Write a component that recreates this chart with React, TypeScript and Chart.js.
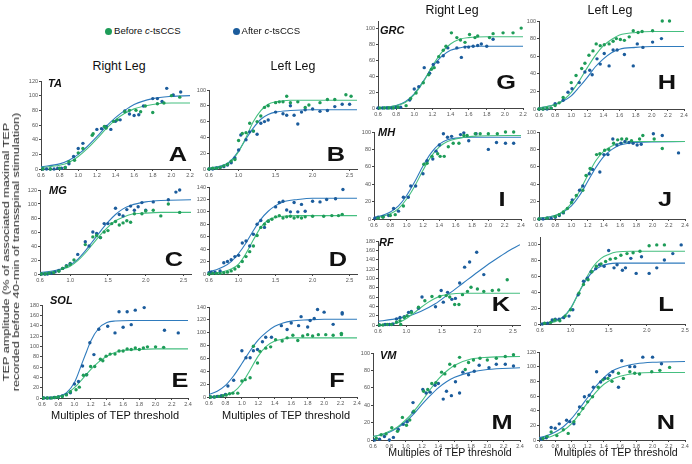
import React, { useEffect, useRef } from "react";
import { Chart, registerables } from "chart.js";

Chart.register(...registerables);

const FONT = '"Liberation Sans", Arial, Helvetica, sans-serif';
const GREEN_PT = "#1e9c58";
const GREEN_LN = "#45bf80";
const BLUE_PT = "#1b5c9c";
const BLUE_LN = "#2f7bbd";

type Pts = [number, number][];

// ---------- tick labels ----------
const X_TICKS_22 = [0.6, 0.8, 1.0, 1.2, 1.4, 1.6, 1.8, 2.0, 2.2];
const X_TICKS_24 = [0.6, 0.8, 1.0, 1.2, 1.4, 1.6, 1.8, 2.0, 2.2, 2.4];
const X_TICKS_HALF = [0.6, 1.0, 1.5, 2.0, 2.5];
const Y_TICKS_100 = [0, 20, 40, 60, 80, 100];
const Y_TICKS_120 = [0, 20, 40, 60, 80, 100, 120];
const Y_TICKS_140 = [0, 20, 40, 60, 80, 100, 120, 140];
const Y_TICKS_180 = [0, 20, 40, 60, 80, 100, 120, 140, 160, 180];

// ---------- A: TA right ----------
const A_BEFORE: Pts = [[0.62,0],[0.7,0],[0.8,1],[0.86,2],[0.9,10],[0.96,12],[1.0,22],[1.05,28],[1.15,46],[1.16,48],[1.28,58],[1.3,56],[1.38,65],[1.42,67],[1.5,78],[1.55,80],[1.62,80],[1.67,78],[1.72,86],[1.8,77],[1.85,89],[1.92,90],[2.0,100],[2.09,98]];
const A_AFTER: Pts = [[0.62,0],[0.66,0],[0.7,0],[0.74,0],[0.78,1],[0.82,1],[0.86,2],[0.9,7],[0.95,17],[1.0,28],[1.05,35],[1.2,54],[1.25,55],[1.3,58],[1.35,54],[1.4,65],[1.45,67],[1.5,79],[1.55,75],[1.6,73],[1.65,74],[1.7,86],[1.8,96],[1.85,96],[1.9,92],[1.95,110],[2.02,101],[2.1,105]];
const A_FIT_BEFORE: Pts = [[0.6,2],[0.8,5],[0.9,9],[1.0,17],[1.1,28],[1.2,41],[1.3,55],[1.4,67],[1.5,76],[1.6,82],[1.8,88],[2.0,90],[2.2,90]];
const A_FIT_AFTER: Pts = [[0.6,3],[0.8,7],[0.9,12],[1.0,20],[1.1,31],[1.2,44],[1.3,58],[1.4,70],[1.5,80],[1.6,88],[1.8,96],[2.0,99],[2.2,100]];

// ---------- B: TA left ----------
const B_BEFORE: Pts = [[0.6,0],[0.65,1],[0.7,1],[0.75,2],[0.8,4],[0.85,6],[0.9,10],[0.95,12],[1.0,36],[1.05,45],[1.1,46],[1.15,58],[1.2,48],[1.25,60],[1.3,67],[1.35,78],[1.4,80],[1.5,84],[1.55,85],[1.6,85],[1.65,92],[1.7,84],[1.8,85],[1.9,78],[1.95,81],[2.1,84],[2.2,88],[2.3,88],[2.45,94],[2.52,92]];
const B_AFTER: Pts = [[0.6,0],[0.65,0],[0.7,1],[0.75,2],[0.8,3],[0.85,5],[0.9,8],[0.95,14],[1.0,24],[1.03,43],[1.1,37],[1.15,47],[1.2,48],[1.25,44],[1.3,58],[1.35,60],[1.4,62],[1.5,72],[1.6,70],[1.65,68],[1.7,80],[1.75,68],[1.8,57],[1.85,72],[1.9,75],[2.0,76],[2.1,73],[2.2,74],[2.3,79],[2.4,82],[2.5,82]];
const B_FIT_BEFORE: Pts = [[0.6,1],[0.8,4],[0.9,10],[1.0,22],[1.1,40],[1.2,60],[1.3,74],[1.4,82],[1.5,85],[1.7,87],[2.0,87],[2.6,87]];
const B_FIT_AFTER: Pts = [[0.6,1],[0.8,5],[0.9,11],[1.0,23],[1.1,38],[1.2,52],[1.3,63],[1.4,69],[1.5,72],[1.7,74],[2.0,75],[2.6,75]];

// ---------- C: MG right ----------
const C_BEFORE: Pts = [[0.62,0],[0.67,0],[0.72,1],[0.78,2],[0.85,4],[0.9,8],[0.95,11],[1.0,14],[1.05,20],[1.2,42],[1.3,53],[1.35,55],[1.4,52],[1.45,60],[1.5,62],[1.55,72],[1.6,75],[1.65,70],[1.7,73],[1.75,76],[1.8,74],[1.85,86],[1.95,86],[2.0,90],[2.1,91],[2.2,83],[2.3,100],[2.45,88]];
const C_AFTER: Pts = [[0.62,0],[0.66,0],[0.7,0],[0.75,1],[0.8,3],[0.85,5],[0.9,8],[0.95,12],[1.0,15],[1.1,28],[1.2,46],[1.25,40],[1.3,60],[1.35,58],[1.4,52],[1.45,72],[1.5,72],[1.6,94],[1.65,85],[1.7,83],[1.75,92],[1.8,97],[1.85,91],[1.9,96],[1.95,102],[2.0,91],[2.1,103],[2.3,106],[2.4,117],[2.45,120]];
const C_FIT_BEFORE: Pts = [[0.6,1],[0.8,4],[0.9,7],[1.0,11],[1.1,19],[1.2,30],[1.3,43],[1.4,56],[1.5,67],[1.6,76],[1.7,81],[1.8,85],[2.0,87],[2.2,88],[2.6,88]];
const C_FIT_AFTER: Pts = [[0.6,2],[0.8,5],[0.9,8],[1.0,13],[1.1,21],[1.2,33],[1.3,47],[1.4,61],[1.5,74],[1.6,85],[1.7,93],[1.8,98],[2.0,103],[2.2,105],[2.6,106]];

// ---------- D: MG left ----------
const D_BEFORE: Pts = [[0.6,0],[0.65,1],[0.7,1],[0.75,1],[0.8,2],[0.85,3],[0.9,5],[0.95,8],[1.0,12],[1.05,20],[1.1,28],[1.15,36],[1.2,45],[1.25,62],[1.3,75],[1.35,80],[1.4,85],[1.45,88],[1.5,92],[1.55,94],[1.6,90],[1.65,92],[1.7,93],[1.75,90],[1.8,92],[1.85,90],[1.9,92],[2.0,93],[2.15,93],[2.26,94],[2.35,94],[2.4,96]];
const D_AFTER: Pts = [[0.6,2],[0.63,3],[0.68,3],[0.75,5],[0.8,18],[0.85,20],[0.9,23],[0.95,28],[1.0,30],[1.05,50],[1.1,53],[1.15,45],[1.2,64],[1.25,80],[1.3,86],[1.35,75],[1.4,85],[1.5,108],[1.55,115],[1.6,117],[1.65,103],[1.7,100],[1.75,115],[1.8,100],[1.85,112],[1.9,101],[2.0,117],[2.1,116],[2.19,120],[2.31,121],[2.41,136]];
const D_FIT_BEFORE: Pts = [[0.6,1],[0.7,2],[0.8,4],[0.9,8],[1.0,16],[1.1,33],[1.2,55],[1.3,75],[1.4,87],[1.5,91],[1.6,93],[1.8,94],[2.6,94]];
const D_FIT_AFTER: Pts = [[0.6,4],[0.7,7],[0.8,12],[0.9,20],[1.0,33],[1.1,50],[1.2,70],[1.3,88],[1.4,101],[1.5,110],[1.6,116],[1.8,120],[2.0,122],[2.6,122]];

// ---------- E: SOL right ----------
const E_BEFORE: Pts = [[0.62,0],[0.67,0],[0.72,0],[0.76,1],[0.8,2],[0.85,3],[0.9,6],[0.95,12],[1.02,16],[1.06,21],[1.11,44],[1.15,45],[1.2,61],[1.25,61],[1.32,75],[1.35,72],[1.39,81],[1.44,85],[1.5,85],[1.55,91],[1.6,91],[1.65,95],[1.7,94],[1.75,97],[1.8,94],[1.85,97],[1.9,99],[2.0,99],[2.1,98]];
const E_AFTER: Pts = [[0.62,0],[0.66,0],[0.7,0],[0.75,1],[0.8,2],[0.85,4],[0.9,7],[0.95,10],[1.0,27],[1.05,32],[1.1,62],[1.15,45],[1.19,107],[1.24,84],[1.3,133],[1.41,139],[1.5,126],[1.55,167],[1.6,137],[1.65,167],[1.7,142],[1.75,170],[1.86,175],[2.11,131],[2.28,126]];
const E_FIT_BEFORE: Pts = [[0.6,0],[0.8,3],[0.9,8],[1.0,20],[1.1,37],[1.2,55],[1.3,70],[1.4,81],[1.5,88],[1.6,92],[1.8,94],[2.0,95],[2.4,95]];
const E_FIT_AFTER: Pts = [[0.6,0],[0.8,3],[0.9,10],[1.0,30],[1.1,70],[1.15,90],[1.2,110],[1.3,135],[1.4,146],[1.5,149],[1.7,150],[2.4,150]];

// ---------- F: SOL left ----------
const F_BEFORE: Pts = [[0.62,0],[0.67,0],[0.72,1],[0.77,2],[0.81,3],[0.85,5],[0.89,6],[0.95,6],[1.0,25],[1.04,27],[1.1,30],[1.14,79],[1.19,53],[1.22,71],[1.29,76],[1.35,78],[1.41,89],[1.49,87],[1.55,92],[1.62,96],[1.68,88],[1.74,95],[1.8,97],[1.86,95],[1.93,97],[2.02,97],[2.11,96],[2.21,99],[2.21,97]];
const F_AFTER: Pts = [[0.62,0],[0.66,0],[0.7,1],[0.75,2],[0.8,4],[0.83,17],[0.9,26],[1.0,72],[1.05,61],[1.1,61],[1.14,72],[1.19,74],[1.25,86],[1.29,93],[1.36,93],[1.48,111],[1.55,105],[1.6,115],[1.69,111],[1.72,125],[1.8,109],[1.83,119],[1.88,122],[1.92,136],[2.0,132],[2.11,113],[2.22,131],[2.22,129]];
const F_FIT_BEFORE: Pts = [[0.6,0],[0.7,1],[0.8,3],[0.9,8],[1.0,21],[1.1,42],[1.2,64],[1.3,79],[1.4,87],[1.5,90],[1.6,92],[2.4,92]];
const F_FIT_AFTER: Pts = [[0.6,4],[0.7,9],[0.8,18],[0.9,33],[1.0,52],[1.1,72],[1.2,89],[1.3,101],[1.4,110],[1.5,115],[1.6,118],[1.8,120],[2.0,121],[2.4,121]];

// ---------- G: GRC right ----------
const G_BEFORE: Pts = [[0.62,0],[0.67,0],[0.72,0],[0.77,0],[0.82,1],[0.91,3],[0.96,12],[1.02,19],[1.1,32],[1.16,42],[1.19,49],[1.22,51],[1.27,65],[1.32,73],[1.35,78],[1.41,95],[1.47,89],[1.51,86],[1.56,83],[1.61,93],[1.67,89],[1.7,91],[1.83,89],[1.87,94],[1.98,95],[2.09,95],[2.18,101]];
const G_AFTER: Pts = [[0.6,0],[0.65,0],[0.7,0],[0.75,0],[0.8,1],[0.85,1],[0.95,10],[1.0,24],[1.05,27],[1.11,51],[1.17,44],[1.21,55],[1.26,58],[1.32,66],[1.37,76],[1.47,76],[1.52,64],[1.56,77],[1.6,77],[1.65,78],[1.7,79],[1.74,81],[1.8,78],[1.87,87]];
const G_FIT_BEFORE: Pts = [[0.6,0],[0.8,3],[0.9,7],[1.0,17],[1.1,33],[1.2,53],[1.3,70],[1.4,81],[1.5,87],[1.6,89],[1.8,90],[2.2,90]];
const G_FIT_AFTER: Pts = [[0.6,0],[0.8,3],[0.9,8],[1.0,18],[1.1,34],[1.2,52],[1.3,65],[1.4,73],[1.5,76],[1.6,78],[2.2,78]];

// ---------- H: GRC left ----------
const H_BEFORE: Pts = [[0.6,0],[0.65,0],[0.7,1],[0.75,1],[0.8,4],[0.85,7],[0.9,13],[1.0,30],[1.06,38],[1.13,46],[1.17,52],[1.22,61],[1.27,66],[1.31,74],[1.36,72],[1.41,73],[1.47,74],[1.52,77],[1.56,80],[1.61,79],[1.66,78],[1.72,82],[1.77,89],[1.83,87],[1.88,88],[2.01,89],[2.13,100],[2.22,100]];
const H_AFTER: Pts = [[0.6,0],[0.65,0],[0.7,0],[0.75,1],[0.8,6],[0.9,10],[0.96,19],[1.01,23],[1.1,30],[1.17,42],[1.23,44],[1.26,39],[1.32,57],[1.36,51],[1.41,63],[1.47,49],[1.52,67],[1.57,67],[1.66,62],[1.77,49],[1.82,74],[1.89,70],[2.01,76],[2.12,80]];
const H_FIT_BEFORE: Pts = [[0.6,1],[0.8,5],[0.9,10],[1.0,19],[1.1,32],[1.2,47],[1.3,61],[1.4,72],[1.5,79],[1.6,84],[1.8,87],[2.0,88],[2.4,88]];
const H_FIT_AFTER: Pts = [[0.6,1],[0.8,5],[0.9,9],[1.0,15],[1.1,25],[1.2,36],[1.3,48],[1.4,57],[1.5,64],[1.6,68],[1.8,70],[2.0,71],[2.4,71]];

// ---------- I: MH right ----------
const I_BEFORE: Pts = [[0.65,1],[0.71,2],[0.8,4],[0.86,5],[0.96,15],[1.21,63],[1.25,64],[1.31,72],[1.38,75],[1.41,72],[1.46,72],[1.51,83],[1.57,87],[1.64,87],[1.7,96],[1.74,96],[1.84,98],[1.9,98],[2.0,98],[2.11,98],[2.21,100],[2.31,100]];
const I_AFTER: Pts = [[0.61,1],[0.65,2],[0.71,3],[0.78,4],[0.84,12],[0.9,9],[0.96,25],[1.02,25],[1.05,38],[1.11,38],[1.2,52],[1.25,67],[1.32,69],[1.36,78],[1.4,85],[1.45,98],[1.5,94],[1.55,95],[1.66,97],[1.7,99],[1.76,90],[1.85,98],[2.0,80],[2.1,88],[2.21,87],[2.31,87]];
const I_FIT_BEFORE: Pts = [[0.6,1],[0.7,3],[0.8,6],[0.9,12],[1.0,23],[1.1,38],[1.2,56],[1.3,72],[1.4,83],[1.5,89],[1.6,92],[1.8,95],[2.4,96]];
const I_FIT_AFTER: Pts = [[0.6,2],[0.7,4],[0.8,8],[0.9,15],[1.0,27],[1.1,43],[1.2,61],[1.3,76],[1.4,86],[1.5,91],[1.6,93],[1.8,94],[2.4,94]];

// ---------- J: MH left ----------
const J_BEFORE: Pts = [[0.6,0],[0.7,1],[0.8,3],[0.85,5],[0.9,8],[0.95,12],[1.0,19],[1.06,27],[1.14,33],[1.18,50],[1.23,58],[1.31,74],[1.35,75],[1.41,79],[1.46,80],[1.52,87],[1.57,91],[1.62,92],[1.68,92],[1.74,90],[1.84,92],[1.88,96],[2.02,92],[2.12,81]];
const J_AFTER: Pts = [[0.6,0],[0.65,0],[0.7,1],[0.75,1],[0.8,2],[0.85,4],[0.9,7],[1.01,22],[1.1,33],[1.14,38],[1.22,52],[1.26,57],[1.35,54],[1.4,74],[1.45,74],[1.51,92],[1.56,85],[1.61,87],[1.66,89],[1.71,88],[1.76,87],[1.81,85],[1.86,86],[2.01,98],[2.12,96],[2.32,76]];
const J_FIT_BEFORE: Pts = [[0.6,1],[0.7,2],[0.8,4],[0.9,9],[1.0,18],[1.1,32],[1.2,50],[1.3,67],[1.4,78],[1.5,84],[1.6,87],[1.8,89],[2.4,89]];
const J_FIT_AFTER: Pts = [[0.6,1],[0.7,2],[0.8,4],[0.9,8],[1.0,15],[1.1,27],[1.2,43],[1.3,59],[1.4,72],[1.5,80],[1.6,85],[1.8,88],[2.4,89]];

// ---------- K: RF right ----------
const K_BEFORE: Pts = [[0.62,0],[0.67,0],[0.73,1],[0.79,1],[0.86,6],[0.91,9],[0.92,1],[0.97,16],[1.01,20],[1.07,27],[1.17,38],[1.26,52],[1.36,61],[1.47,61],[1.56,63],[1.61,60],[1.68,44],[1.74,44],[1.79,65],[1.86,72],[1.91,81],[2.0,77],[2.09,72],[2.21,74],[2.3,75],[2.42,97]];
const K_AFTER: Pts = [[0.62,0],[0.7,1],[0.76,1],[0.81,2],[0.86,13],[0.91,16],[0.97,18],[1.03,27],[1.07,29],[1.17,36],[1.22,60],[1.41,39],[1.49,74],[1.52,49],[1.58,70],[1.64,55],[1.69,57],[1.75,90],[1.82,124],[1.89,135],[1.99,156],[2.09,108]];
const K_FIT_BEFORE: Pts = [[0.6,0],[0.8,2],[0.9,6],[1.0,14],[1.1,25],[1.2,37],[1.3,48],[1.4,57],[1.5,63],[1.6,66],[1.8,68],[2.6,68]];
const K_FIT_AFTER: Pts = [[0.6,8],[0.8,12],[1.0,18],[1.2,29],[1.4,45],[1.6,67],[1.8,90],[2.0,113],[2.2,135],[2.4,155],[2.6,172]];

// ---------- L: RF left ----------
const L_BEFORE: Pts = [[0.66,1],[0.74,2],[0.79,5],[0.86,4],[0.93,10],[1.0,18],[1.11,39],[1.17,50],[1.23,56],[1.28,66],[1.34,73],[1.4,76],[1.46,79],[1.52,82],[1.59,83],[1.66,87],[1.74,89],[1.82,90],[1.91,92],[2.03,99],[2.13,100],[2.23,100]];
const L_AFTER: Pts = [[0.63,0],[0.7,1],[0.76,5],[0.8,6],[0.85,6],[0.91,8],[0.98,10],[1.03,18],[1.1,37],[1.17,54],[1.22,58],[1.27,66],[1.33,70],[1.38,75],[1.44,73],[1.5,93],[1.57,71],[1.61,75],[1.68,68],[1.72,71],[1.79,83],[1.86,64],[1.93,85],[2.03,64],[2.13,71],[2.23,81],[2.34,89],[2.45,100]];
const L_FIT_BEFORE: Pts = [[0.6,0],[0.8,3],[0.9,8],[1.0,19],[1.1,38],[1.2,57],[1.3,73],[1.4,83],[1.5,88],[1.6,91],[1.8,92],[2.5,92]];
const L_FIT_AFTER: Pts = [[0.6,0],[0.8,4],[0.9,9],[1.0,20],[1.1,38],[1.2,55],[1.3,67],[1.4,73],[1.5,76],[1.6,77],[2.5,77]];

// ---------- M: VM right ----------
const M_BEFORE: Pts = [[0.64,2],[0.7,6],[0.76,7],[0.83,14],[0.9,10],[0.96,26],[1.01,17],[1.05,23],[1.1,33],[1.22,56],[1.27,58],[1.32,65],[1.37,66],[1.44,78],[1.48,76],[1.54,87],[1.6,85],[1.66,95],[1.73,81],[1.77,89],[1.83,92],[1.91,94],[2.0,92],[2.11,94],[2.22,96],[2.32,98]];
const M_AFTER: Pts = [[0.62,0],[0.68,1],[0.74,4],[0.8,0],[0.85,3],[0.91,12],[0.97,18],[1.02,21],[1.09,32],[1.09,43],[1.21,58],[1.25,54],[1.3,55],[1.36,63],[1.4,65],[1.46,47],[1.5,56],[1.56,51],[1.61,67],[1.66,54],[1.7,78],[1.77,75],[1.84,79],[1.9,86],[2.02,83],[2.11,87],[2.22,87],[2.32,85]];
const M_FIT_BEFORE: Pts = [[0.6,4],[0.7,6],[0.8,10],[0.9,15],[1.0,23],[1.1,33],[1.2,45],[1.3,58],[1.4,70],[1.5,79],[1.6,86],[1.8,93],[2.0,95],[2.4,96]];
const M_FIT_AFTER: Pts = [[0.6,4],[0.7,6],[0.8,9],[0.9,14],[1.0,21],[1.1,30],[1.2,41],[1.3,51],[1.4,60],[1.5,67],[1.6,72],[1.8,78],[2.0,81],[2.4,83]];

// ---------- N: VM left ----------
const N_BEFORE: Pts = [[0.65,2],[0.7,5],[0.75,11],[0.82,6],[0.9,14],[0.96,9],[1.03,25],[1.09,35],[1.14,43],[1.2,52],[1.26,59],[1.33,72],[1.39,82],[1.45,84],[1.5,80],[1.58,91],[1.64,84],[1.72,93],[1.78,91],[1.84,90],[1.99,93],[2.09,95],[2.21,99]];
const N_AFTER: Pts = [[0.63,1],[0.69,3],[0.75,17],[0.8,16],[0.85,22],[0.94,27],[0.98,25],[1.03,22],[1.1,45],[1.16,59],[1.22,61],[1.27,72],[1.31,93],[1.36,79],[1.41,84],[1.47,88],[1.51,93],[1.58,72],[1.62,108],[1.72,100],[1.78,100],[1.88,113],[2.0,113],[2.11,104]];
const N_FIT_BEFORE: Pts = [[0.6,1],[0.7,3],[0.8,7],[0.9,13],[1.0,22],[1.1,36],[1.2,51],[1.3,65],[1.4,76],[1.5,83],[1.6,87],[1.8,91],[2.0,92],[2.4,92]];
const N_FIT_AFTER: Pts = [[0.6,3],[0.7,6],[0.8,11],[0.9,18],[1.0,29],[1.1,43],[1.2,58],[1.3,73],[1.4,85],[1.5,94],[1.6,99],[1.8,104],[2.0,106],[2.4,107]];

// ---------- axis ranges ----------
const RANGE_22 = [0.6, 2.2];
const RANGE_24 = [0.6, 2.4];
const RANGE_25 = [0.6, 2.5];
const RANGE_26 = [0.6, 2.6];

interface PanelCfg {
  id: string;
  box: { l: number; r: number; t: number; b: number };
  xr: number[];
  yMax: number;
  xt: number[];
  yt: number[];
  before: Pts;
  after: Pts;
  fitBefore: Pts;
  fitAfter: Pts;
}

const PANELS: PanelCfg[] = [
  { id: "A", box: { l: 41, r: 190, t: 81, b: 169.3 }, xr: RANGE_22, yMax: 120, xt: X_TICKS_22, yt: Y_TICKS_120, before: A_BEFORE, after: A_AFTER, fitBefore: A_FIT_BEFORE, fitAfter: A_FIT_AFTER },
  { id: "B", box: { l: 208.7, r: 356.7, t: 90.3, b: 169.3 }, xr: RANGE_26, yMax: 100, xt: X_TICKS_HALF, yt: Y_TICKS_100, before: B_BEFORE, after: B_AFTER, fitBefore: B_FIT_BEFORE, fitAfter: B_FIT_AFTER },
  { id: "C", box: { l: 40, r: 190.8, t: 190, b: 274.3 }, xr: RANGE_26, yMax: 120, xt: X_TICKS_HALF, yt: Y_TICKS_120, before: C_BEFORE, after: C_AFTER, fitBefore: C_FIT_BEFORE, fitAfter: C_FIT_AFTER },
  { id: "D", box: { l: 209, r: 357, t: 187.3, b: 274.3 }, xr: RANGE_26, yMax: 140, xt: X_TICKS_HALF, yt: Y_TICKS_140, before: D_BEFORE, after: D_AFTER, fitBefore: D_FIT_BEFORE, fitAfter: D_FIT_AFTER },
  { id: "E", box: { l: 42, r: 188.3, t: 305, b: 397.7 }, xr: RANGE_24, yMax: 180, xt: X_TICKS_24, yt: Y_TICKS_180, before: E_BEFORE, after: E_AFTER, fitBefore: E_FIT_BEFORE, fitAfter: E_FIT_AFTER },
  { id: "F", box: { l: 209.3, r: 357, t: 307.3, b: 397.7 }, xr: RANGE_24, yMax: 140, xt: X_TICKS_24, yt: Y_TICKS_140, before: F_BEFORE, after: F_AFTER, fitBefore: F_FIT_BEFORE, fitAfter: F_FIT_AFTER },
  { id: "G", box: { l: 378.3, r: 523.3, t: 21.4, b: 108.3 }, xr: RANGE_22, yMax: 110, xt: X_TICKS_22, yt: Y_TICKS_100, before: G_BEFORE, after: G_AFTER, fitBefore: G_FIT_BEFORE, fitAfter: G_FIT_AFTER },
  { id: "H", box: { l: 539.3, r: 684.3, t: 20.7, b: 108.3 }, xr: RANGE_24, yMax: 100, xt: X_TICKS_24, yt: Y_TICKS_100, before: H_BEFORE, after: H_AFTER, fitBefore: H_FIT_BEFORE, fitAfter: H_FIT_AFTER },
  { id: "I", box: { l: 374, r: 520.7, t: 131.7, b: 218.3 }, xr: RANGE_24, yMax: 100, xt: X_TICKS_24, yt: Y_TICKS_100, before: I_BEFORE, after: I_AFTER, fitBefore: I_FIT_BEFORE, fitAfter: I_FIT_AFTER },
  { id: "J", box: { l: 539.3, r: 685, t: 131.7, b: 218.3 }, xr: RANGE_24, yMax: 100, xt: X_TICKS_24, yt: Y_TICKS_100, before: J_BEFORE, after: J_AFTER, fitBefore: J_FIT_BEFORE, fitAfter: J_FIT_AFTER },
  { id: "K", box: { l: 378, r: 520, t: 240.7, b: 324.3 }, xr: RANGE_26, yMax: 180, xt: X_TICKS_HALF, yt: Y_TICKS_180, before: K_BEFORE, after: K_AFTER, fitBefore: K_FIT_BEFORE, fitAfter: K_FIT_AFTER },
  { id: "L", box: { l: 539.6, r: 684.3, t: 237, b: 324.3 }, xr: RANGE_25, yMax: 110, xt: X_TICKS_HALF, yt: Y_TICKS_100, before: L_BEFORE, after: L_AFTER, fitBefore: L_FIT_BEFORE, fitAfter: L_FIT_AFTER },
  { id: "M", box: { l: 373.3, r: 520, t: 353.3, b: 440 }, xr: RANGE_24, yMax: 100, xt: X_TICKS_24, yt: Y_TICKS_100, before: M_BEFORE, after: M_AFTER, fitBefore: M_FIT_BEFORE, fitAfter: M_FIT_AFTER },
  { id: "N", box: { l: 539.3, r: 685, t: 351.7, b: 440 }, xr: RANGE_24, yMax: 120, xt: X_TICKS_24, yt: Y_TICKS_120, before: N_BEFORE, after: N_AFTER, fitBefore: N_FIT_BEFORE, fitAfter: N_FIT_AFTER },
];

const YW = 22;
const XH = 11;
const PT = 6;
const PR = 8;

const toXY = (p: Pts) => p.map(([x, y]) => ({ x, y }));

function Panel({ cfg }: { cfg: PanelCfg }) {
  const ref = useRef<HTMLCanvasElement>(null);
  const left = Math.round(cfg.box.l - YW);
  const top = Math.round(cfg.box.t - PT);
  const width = Math.round(cfg.box.r - cfg.box.l) + YW + PR;
  const height = Math.round(cfg.box.b - cfg.box.t) + PT + XH;

  useEffect(() => {
    const tickFont = { size: 5.5, family: FONT };
    const line = (d: Pts, c: string) => ({
      data: toXY(d),
      showLine: true,
      borderColor: c,
      borderWidth: 1.1,
      pointRadius: 0,
      cubicInterpolationMode: "monotone" as const,
      fill: false,
    });
    const pts = (d: Pts, c: string) => ({
      data: toXY(d),
      showLine: false,
      pointRadius: 1.7,
      pointBackgroundColor: c,
      pointBorderWidth: 0,
      clip: false as const,
    });
    const chart = new Chart(ref.current!, {
      type: "scatter",
      data: {
        datasets: [
          pts(cfg.before, GREEN_PT),
          pts(cfg.after, BLUE_PT),
          line(cfg.fitBefore, GREEN_LN),
          line(cfg.fitAfter, BLUE_LN),
        ] as any,
      },
      options: {
        animation: false,
        responsive: false,
        maintainAspectRatio: false,
        devicePixelRatio: 1,
        events: [],
        layout: { padding: { top: PT, right: PR, left: 0, bottom: 0 } },
        plugins: { legend: { display: false }, tooltip: { enabled: false } },
        scales: {
          x: {
            type: "linear",
            min: cfg.xr[0],
            max: cfg.xr[1],
            afterBuildTicks: (s: any) => {
              s.ticks = cfg.xt.map((v) => ({ value: v }));
            },
            afterFit: (s: any) => {
              s.height = XH;
            },
            ticks: {
              font: tickFont,
              color: "#555",
              padding: 1,
              maxRotation: 0,
              autoSkip: false,
              callback: (v: any) => Number(v).toFixed(1),
            },
            grid: { drawOnChartArea: false, tickLength: 2, color: "#444" },
            border: { color: "#444", width: 1 },
          },
          y: {
            type: "linear",
            min: 0,
            max: cfg.yMax,
            afterBuildTicks: (s: any) => {
              s.ticks = cfg.yt.map((v) => ({ value: v }));
            },
            afterFit: (s: any) => {
              s.width = YW;
            },
            ticks: {
              font: tickFont,
              color: "#555",
              padding: 1,
              autoSkip: false,
              callback: (v: any) => String(v),
            },
            grid: { drawOnChartArea: false, tickLength: 2, color: "#444" },
            border: { color: "#444", width: 1 },
          },
        },
      } as any,
    });
    return () => chart.destroy();
  }, [cfg]);

  return (
    <canvas
      ref={ref}
      width={width}
      height={height}
      style={{ position: "absolute", left, top, width, height }}
    />
  );
}

function T({
  x,
  y,
  children,
  size,
  weight = 400,
  italic = false,
  sx = 1,
  align = "center",
}: {
  x: number;
  y: number;
  children: React.ReactNode;
  size: number;
  weight?: number;
  italic?: boolean;
  sx?: number;
  align?: "center" | "left";
}) {
  const tx = align === "center" ? "-50%" : "0";
  return (
    <div
      style={{
        position: "absolute",
        left: x,
        top: y,
        transform: `translate(${tx}, -50%) scaleX(${sx})`,
        transformOrigin: align === "center" ? "50% 50%" : "0 50%",
        fontFamily: FONT,
        fontSize: size,
        fontWeight: weight,
        fontStyle: italic ? "italic" : "normal",
        whiteSpace: "nowrap",
        lineHeight: 1,
        color: "#111",
      }}
    >
      {children}
    </div>
  );
}

const MUSCLES: [string, number, number][] = [
  ["TA", 48, 83],
  ["MG", 49, 190],
  ["SOL", 50, 300],
  ["GRC", 380, 30],
  ["MH", 378, 131.7],
  ["RF", 379, 241.7],
  ["VM", 380, 355],
];

const LETTER_POS: [string, number, number][] = [
  ["A", 177.5, 154.5],
  ["B", 335.5, 154.5],
  ["C", 173.5, 260],
  ["D", 337.5, 260],
  ["E", 179.5, 380.5],
  ["F", 337, 380.5],
  ["G", 505.5, 82.5],
  ["H", 666.5, 82.5],
  ["I", 501.5, 200],
  ["J", 665, 200],
  ["K", 501, 305],
  ["L", 666, 305],
  ["M", 501.5, 422.5],
  ["N", 666, 422.5],
];

export default function App() {
  return (
    <div
      style={{
        position: "absolute",
        left: 0,
        top: 0,
        width: 692,
        height: 464,
        background: "#fff",
        overflow: "hidden",
      }}
    >
      {PANELS.map((p) => (
        <Panel key={p.id} cfg={p} />
      ))}

      {/* legend */}
      <div style={{ position: "absolute", left: 104.5, top: 27.5, width: 7, height: 7, borderRadius: "50%", background: GREEN_PT }} />
      <T x={114} y={31} size={9.6} align="left">
        Before <i>c</i>-tsCCS
      </T>
      <div style={{ position: "absolute", left: 232.5, top: 27.5, width: 7, height: 7, borderRadius: "50%", background: BLUE_PT }} />
      <T x={241.5} y={31} size={9.6} align="left">
        After <i>c</i>-tsCCS
      </T>

      {/* column titles */}
      <T x={119} y={66} size={12.4}>Right Leg</T>
      <T x={293} y={66} size={12.4}>Left Leg</T>
      <T x={452} y={10} size={12.4}>Right Leg</T>
      <T x={610} y={10} size={12.4}>Left Leg</T>

      {MUSCLES.map(([m, x, y]) => (
        <T key={m} x={x} y={y} size={11} weight={700} italic align="left">
          {m}
        </T>
      ))}
      {LETTER_POS.map(([m, x, y]) => (
        <T key={m} x={x} y={y} size={19.5} weight={700} sx={1.3}>
          {m}
        </T>
      ))}

      {/* x titles */}
      <T x={115} y={415} size={11}>Multiples of TEP threshold</T>
      <T x={286} y={415} size={11}>Multiples of TEP threshold</T>
      <T x={450} y={452} size={10.6}>Multiples of TEP threshold</T>
      <T x={616} y={452} size={10.6}>Multiples of TEP threshold</T>

      {/* y title */}
      <div
        style={{
          position: "absolute",
          left: 11,
          top: 252,
          transform: "translate(-50%, -50%) rotate(-90deg) scaleX(1.35)",
          fontFamily: FONT,
          fontSize: 9.4,
          lineHeight: "10px",
          textAlign: "center",
          whiteSpace: "nowrap",
          color: "#222",
        }}
      >
        TEP amplitude (% of associated maximal TEP
        <br />
        recorded before 40-min of transspinal stimulation)
      </div>
    </div>
  );
}
